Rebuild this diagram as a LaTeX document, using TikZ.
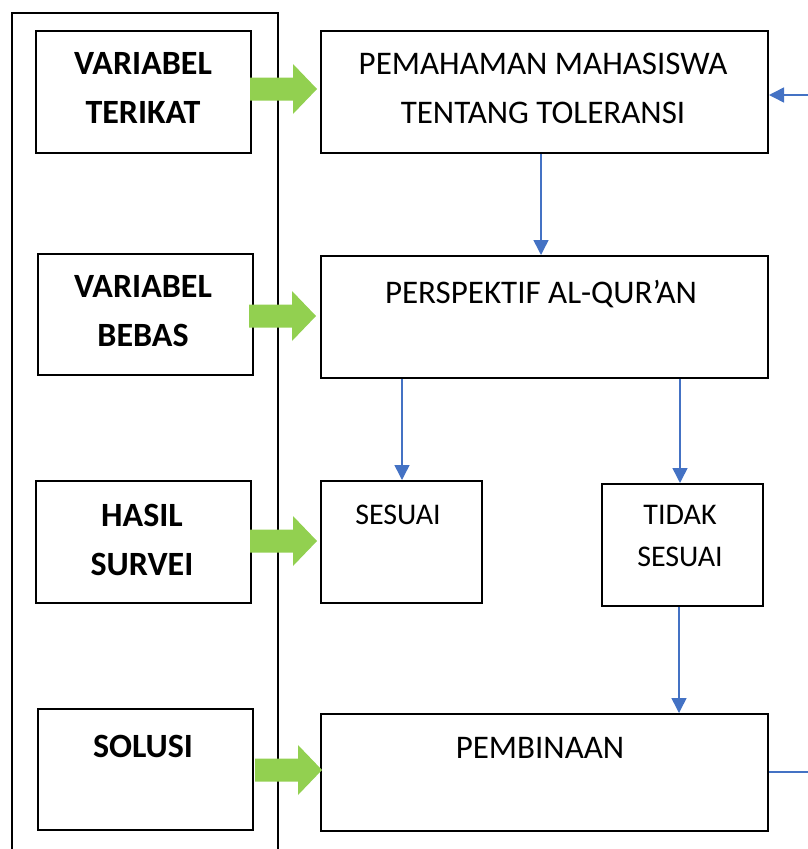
\documentclass[tikz,border=0pt]{standalone}
\usepackage{fontspec}
\setmainfont{Carlito}
\usetikzlibrary{arrows.meta}
\definecolor{blu}{RGB}{68,114,196}
\definecolor{grn}{RGB}{146,208,80}
\begin{document}
\begin{tikzpicture}[x=1pt,y=-1pt,
  box/.style={draw=black,line width=2pt,minimum width=#1,inner sep=0pt,anchor=north west},
  lt/.style={font=\fontsize{34}{49}\selectfont\bfseries,align=center,inner sep=0pt},
  rt/.style={font=\fontsize{33}{49}\selectfont,align=center,inner sep=0pt},
  st/.style={font=\fontsize{30}{42}\selectfont,align=center,inner sep=0pt},
  conn/.style={draw=blu,line width=1.5pt,-{Triangle[length=15pt,width=15pt]}},
  garrow/.pic={\fill[grn] (0,-11.5) -- (43,-11.5) -- (43,-25) -- (67,0) -- (43,25) -- (43,11.5) -- (0,11.5) -- cycle;}
]
\useasboundingbox (0,0) rectangle (807,849);
% outer frame
\draw[line width=2pt] (12,860) -- (12,13) -- (278,13) -- (278,860);
% left boxes
\node[box=215pt,minimum height=122pt] (vt) at (35,30) {};
\node[box=215pt,minimum height=121pt] (vb) at (37,253) {};
\node[box=215pt,minimum height=122pt] (hs) at (35,480) {};
\node[box=215pt,minimum height=121pt] (so) at (37,708) {};
\node[lt] (tvt) at (143,88) {VARIABEL\\TERIKAT};
\node[lt] (tvb) at (143,311) {VARIABEL\\BEBAS};
\node[lt] (ths) at (142,540) {HASIL\\SURVEI};
\node[lt] (tso) at (143,746) {SOLUSI};
% right boxes
\node[box=447pt,minimum height=122pt] (pm) at (320,30) {};
\node[box=447pt,minimum height=122pt] (pq) at (320,255) {};
\node[box=161pt,minimum height=122pt] (ss) at (320,480) {};
\node[box=161pt,minimum height=122pt] (ts) at (601,483) {};
\node[box=447pt,minimum height=117pt] (pb) at (320,713) {};
\node[rt] (tpm) at (543,88) {PEMAHAMAN MAHASISWA\\TENTANG TOLERANSI};
\node[rt,anchor=base] (tpq) at (541,303) {PERSPEKTIF AL-QUR'AN};
\node[st] (tss) at (398,515) {SESUAI};
\node[st] (tts) at (680,536) {TIDAK\\SESUAI};
\node[rt] (tpb) at (540,748) {PEMBINAAN};
% green arrows
\pic at (250,89) {garrow};
\pic at (249,316) {garrow};
\pic at (250,541) {garrow};
\pic at (255,770) {garrow};
% blue connectors
\draw[conn] (pm.south west -| 541,0) -- (pq.north west -| 541,0);
\draw[conn] (pq.south west -| 402,0) -- (ss.north west -| 402,0);
\draw[conn] (pq.south west -| 680,0) -- (ts.north west -| 680,0);
\draw[conn] (ts.south west -| 679,0) -- (pb.north west -| 679,0);
\coordinate (e1) at (808,95);
\coordinate (e2) at (808,772);
\draw[conn] (e1) -- (e1 -| pm.east);
\draw[draw=blu,line width=1.5pt] (pb.east |- e2) -- (e2);
\end{tikzpicture}
\end{document}
